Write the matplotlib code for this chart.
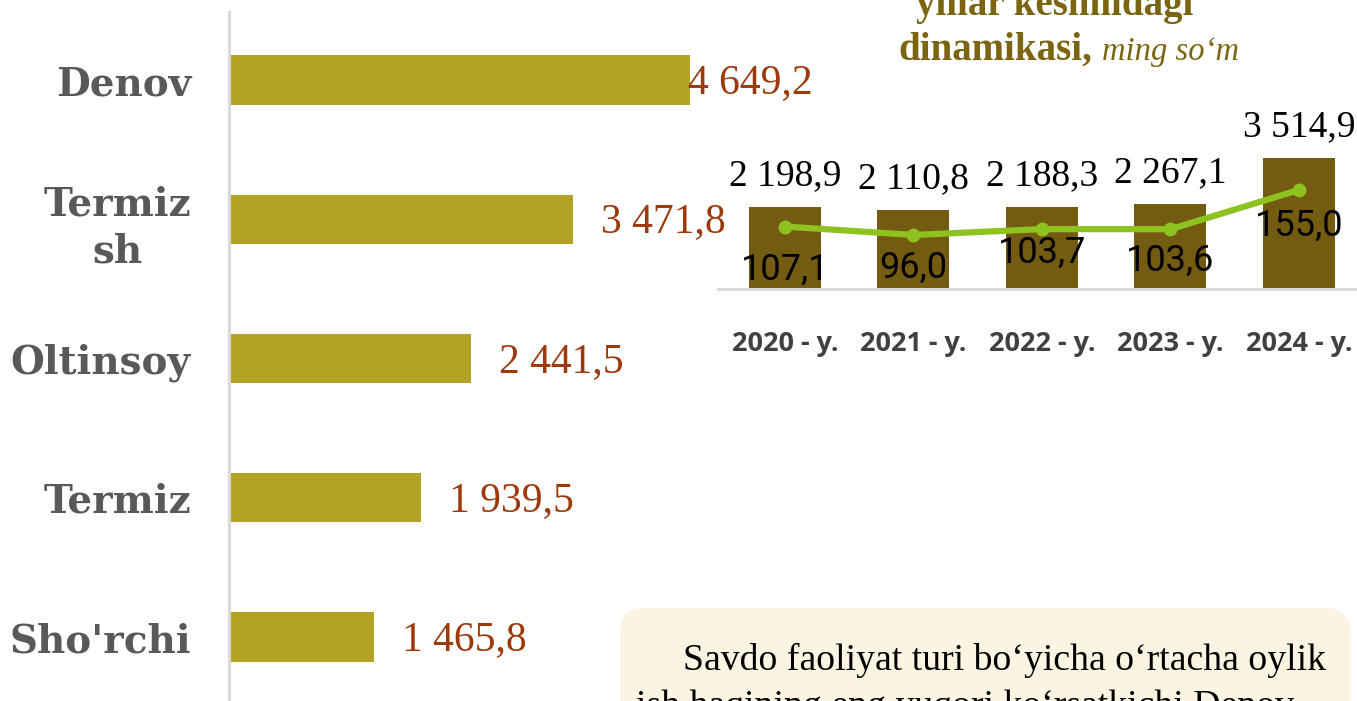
import matplotlib
matplotlib.use("Agg")
import matplotlib.pyplot as plt
from matplotlib.patches import FancyBboxPatch
from matplotlib import font_manager

# ---------------- data ----------------
districts = ["Denov", "Termiz\nsh", "Oltinsoy", "Termiz", "Sho'rchi"]
district_wages = [4649.2, 3471.8, 2441.5, 1939.5, 1465.8]

years = ["2020 - y.", "2021 - y.", "2022 - y.", "2023 - y.", "2024 - y."]
year_wages = [2198.9, 2110.8, 2188.3, 2267.1, 3514.9]
growth = [107.1, 96.0, 103.7, 103.6, 155.0]

title_line1 = "yillar kesimidagi"
title_bold = "dinamikasi,"
title_unit = "ming so\u2018m"
note_line1 = "Savdo faoliyat turi bo\u2018yicha o\u2018rtacha oylik"
note_line2 = "ish haqining eng yuqori ko\u2018rsatkichi Denov"


def fmt(v):
    return f"{v:,.1f}".replace(",", " ").replace(".", ",")


available = {f.name for f in font_manager.fontManager.ttflist}


def pick(*names):
    for n in names:
        if n in available:
            return n
    return "DejaVu Sans"


SERIF = pick("Liberation Serif", "DejaVu Serif")
CAT_FONT = pick("DejaVu Serif", "Liberation Serif")
NARROW = pick("Liberation Sans Narrow", "Roboto", "Liberation Sans")
TICK_FONT = pick("Open Sans", "Noto Sans", "DejaVu Sans")

W, H = 1357, 701
PT = 72 / 100  # points per pixel at dpi 100
fig = plt.figure(figsize=(W / 100, H / 100), dpi=100)


def fx(px):
    return px / W


def fy(py):
    return 1 - py / H


# ---------- background / overlay axes in pixel coords ----------
bg = fig.add_axes([0, 0, 1, 1], zorder=0)
bg.set_xlim(0, W)
bg.set_ylim(H, 0)
bg.axis("off")

# text box
box = FancyBboxPatch((620, 608), 730, 220,
                     boxstyle="round,pad=0,rounding_size=24",
                     fc="#FBF4E2", ec="none")
bg.add_patch(box)
bg.text(683, 670, note_line1, fontsize=27.2, family=SERIF, color="black",
        va="baseline", ha="left")
bg.text(636, 716, note_line2, fontsize=27.2, family=SERIF, color="black",
        va="baseline", ha="left")

# inset title
title_color = "#7B6511"
bg.text(1055, 15, title_line1, fontsize=28, family=SERIF, weight="bold",
        color=title_color, ha="center", va="baseline")
bg.text(898, 60, title_bold, fontsize=28, family=SERIF, weight="bold",
        color=title_color, ha="left", va="baseline")
bg.text(1102, 60, title_unit, fontsize=23.5, family=SERIF, style="italic",
        color=title_color, ha="left", va="baseline")

# ---------------- main horizontal bar chart ----------------
ax = fig.add_axes([fx(229), 0, fx(929) - fx(229), fy(12)], zorder=1)
ax.patch.set_alpha(0)
pos = list(range(len(districts)))
ax.barh(pos, district_wages, height=0.352, color="#B4A227")
ax.set_xlim(0, 700 / 0.0992)
ax.set_ylim((701 - 80) / 139.25, (12 - 80) / 139.25)
for s in ["top", "right", "bottom"]:
    ax.spines[s].set_visible(False)
ax.spines["left"].set_color("#D9D9D9")
ax.spines["left"].set_linewidth(2.2)
ax.set_xticks([])
ax.set_yticks(pos)
ax.set_yticklabels(districts, fontsize=28, family=CAT_FONT, weight="bold",
                   color="#595959", linespacing=1.3)
for lab in ax.get_yticklabels():
    lab.set_multialignment("center")
ax.tick_params(axis="y", length=0, pad=38 * PT)

label_offsets_px = [-2, 28, 28, 28, 28]
for i, (v, off) in enumerate(zip(district_wages, label_offsets_px)):
    ax.annotate(fmt(v), xy=(v, i), xytext=(off * PT, -3 * PT),
                textcoords="offset points", ha="left", va="center",
                fontsize=30, family=SERIF, color="#9C3A0C")

# ---------------- inset combo chart ----------------
axi = fig.add_axes([fx(718), fy(289), fx(1357) - fx(718), (289 - 100) / H],
                   zorder=2)
axi.patch.set_alpha(0)
xs = list(range(len(years)))
axi.bar(xs, year_wages, width=0.56, color="#735C11")
axi.set_xlim(-0.521, 4.452)
axi.set_ylim(0, 189 / 0.0373)
for s in ["top", "right", "left"]:
    axi.spines[s].set_visible(False)
axi.spines["bottom"].set_color("#D9D9D9")
axi.spines["bottom"].set_linewidth(2.2)
axi.set_yticks([])
axi.set_xticks(xs)
axi.set_xticklabels(years, fontsize=19.5, family=TICK_FONT, weight="bold",
                    color="#404040")
axi.tick_params(axis="x", length=0, pad=42 * PT)

for x, v in zip(xs, year_wages):
    axi.annotate(fmt(v), xy=(x, v), xytext=(0, 22 * PT),
                 textcoords="offset points", ha="center", va="baseline",
                 fontsize=27, family=SERIF, color="black")

axt = axi.twinx()
axt.set_ylim(25.2, 272.9)
axt.plot(xs, growth, color="#8DC21F", lw=4.5, marker="o", ms=9,
         solid_capstyle="round")
for s in axt.spines.values():
    s.set_visible(False)
axt.set_yticks([])

growth_offsets_px = [43, 33, 24, 32, 36]
for x, g, off in zip(xs, growth, growth_offsets_px):
    axt.annotate(fmt(g), xy=(x, g), xytext=(0, -off * PT),
                 textcoords="offset points", ha="center", va="center",
                 fontsize=26, family=NARROW, color="black")

fig.savefig("out.png", dpi=100)
